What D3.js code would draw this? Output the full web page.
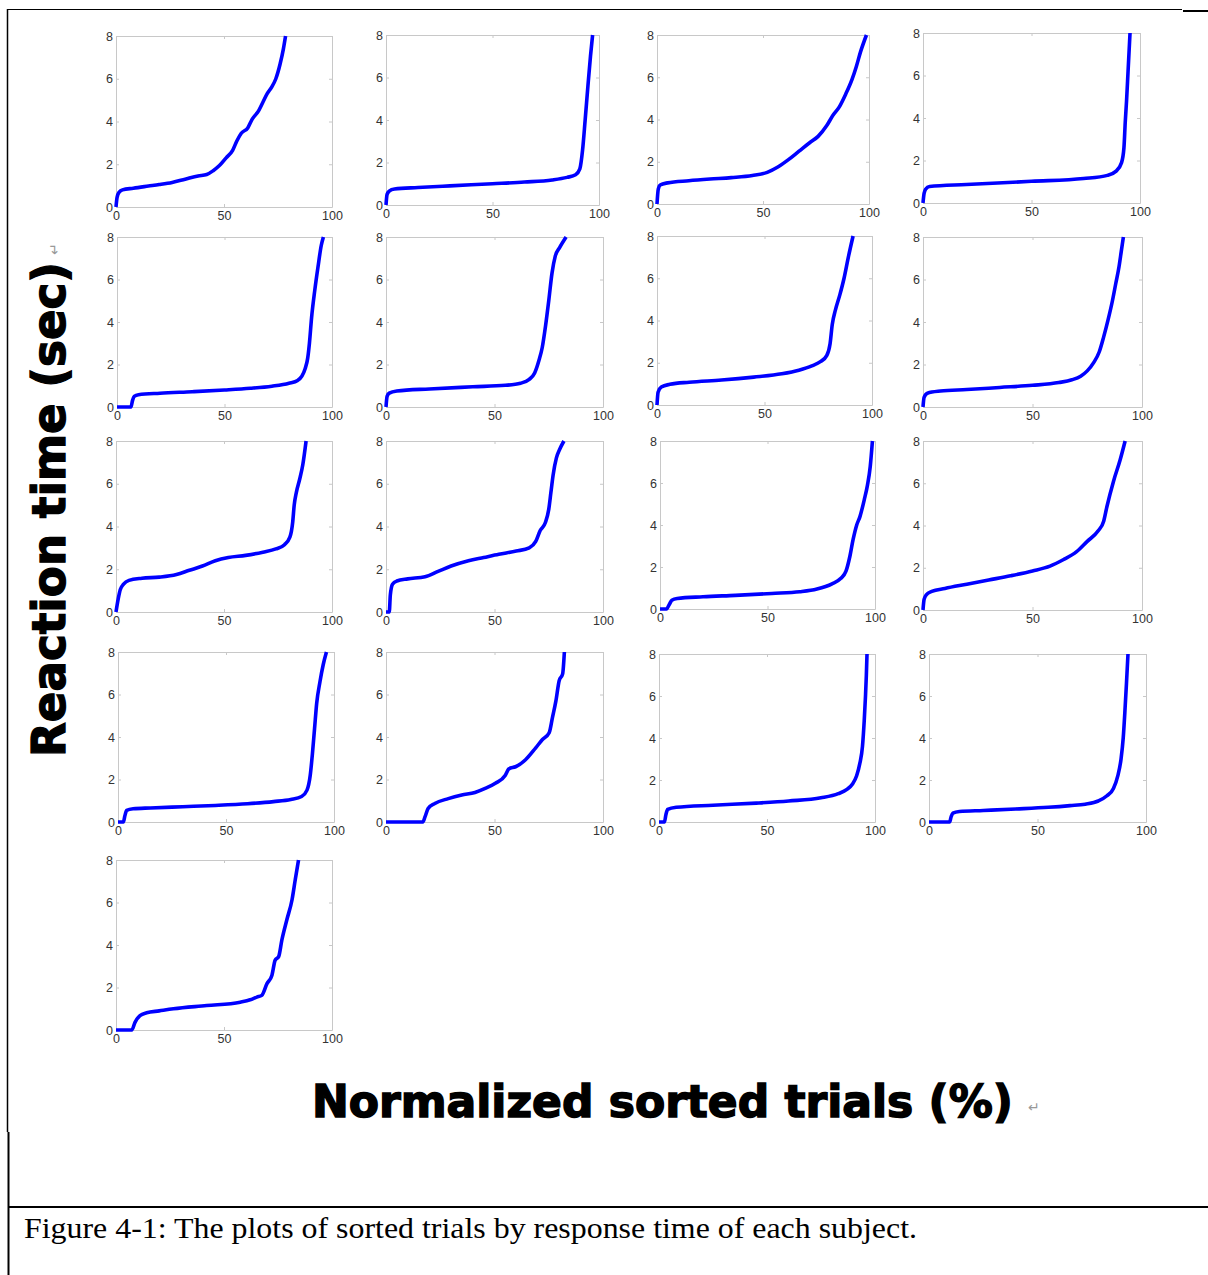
<!DOCTYPE html>
<html lang="en">
<head>
<meta charset="UTF-8">
<title>Figure 4-1: sorted trials by response time</title>
<script src="https://d3js.org/d3.v7.min.js"></script>
<style>
  body { margin: 0; background: #fff; overflow: hidden; }
  svg { display: block; }
  /* tick labels, matlab-ish look */
  .axis .tick text { font-family: "Liberation Sans", Arial, sans-serif; font-size: 12.5px; fill: #333; }
  .axis path, .axis line { stroke: #c8c8c8; stroke-width: 1; }
  .curve { fill: none; stroke: #0000ff; stroke-width: 3.6; stroke-linejoin: round; }
  .big-label { font-family: "DejaVu Sans", sans-serif; font-weight: bold; font-size: 46px; fill: #000; stroke: #000; stroke-width: 1.3; }
  .big-label.x { font-size: 44px; stroke-width: 1.5; }
  .ret { font-family: "DejaVu Sans", sans-serif; font-size: 14px; fill: #999; }
  .caption { font-family: "Liberation Serif", "Times New Roman", serif; font-size: 29px; fill: #000; }
</style>
</head>
<body>
<svg id="fig" width="1208" height="1275"></svg>
<script>
// --- data: [percent of sorted trials, reaction time in sec] per subject ---
const s1  = [[0,0],[0.5,0.45],[1.5,0.7],[3,0.8],[8,0.88],[15,0.98],[20,1.05],[26,1.15],[32,1.3],[38,1.45],[42,1.52],[45,1.7],[48,1.95],[51,2.3],[54,2.65],[56,3.1],[58,3.45],[61,3.7],[63,4.1],[66,4.5],[68,4.9],[70,5.3],[72,5.6],[74,6.0],[76,6.7],[77.5,7.4],[78.5,8]];
const s2  = [[0,0],[0.5,0.5],[1.5,0.65],[4,0.75],[15,0.82],[30,0.9],[50,1.0],[65,1.08],[78,1.18],[85,1.3],[89,1.42],[91,1.7],[92.3,2.6],[93.5,4.0],[94.8,5.6],[96,7.0],[97,8]];
const s3  = [[0,0],[0.6,0.7],[1.5,0.9],[5,1.0],[15,1.1],[25,1.18],[35,1.25],[45,1.35],[52,1.5],[57,1.75],[62,2.1],[67,2.5],[72,2.9],[76,3.2],[80,3.7],[83,4.2],[86,4.6],[89,5.2],[92,5.9],[94,6.5],[96,7.2],[98.8,8]];
const s4  = [[0,0],[0.5,0.45],[1.2,0.65],[3,0.78],[20,0.87],[50,1.02],[74,1.15],[85,1.3],[89,1.5],[91.5,1.9],[92.6,2.6],[93.2,3.8],[93.8,4.8],[94.5,6.2],[95,7.2],[95.4,8]];
const s5  = [[0,0],[6.5,0],[7.2,0.3],[8,0.5],[10,0.58],[20,0.65],[35,0.72],[50,0.8],[62,0.88],[72,0.98],[80,1.12],[84,1.25],[86,1.45],[87.5,1.8],[88.7,2.3],[89.5,3.0],[90.5,4.2],[92,5.5],[93.5,6.6],[95,7.6],[96,8]];
const s6  = [[0,0],[0.5,0.5],[1.5,0.65],[5,0.75],[20,0.85],[40,0.95],[55,1.02],[62,1.12],[66,1.3],[68.5,1.6],[70.5,2.2],[72,2.8],[73.5,3.8],[75,5.0],[76.5,6.3],[78,7.1],[80,7.5],[83,8]];
const s7  = [[0,0],[0.5,0.6],[2,0.85],[6,0.98],[15,1.08],[30,1.18],[45,1.32],[58,1.48],[66,1.65],[72,1.85],[76,2.05],[79,2.35],[80.5,2.9],[81.5,3.8],[83,4.5],[85,5.2],[87,6.0],[89,7.0],[91.2,8]];
const s8  = [[0,0],[0.5,0.45],[2,0.65],[8,0.75],[20,0.82],[35,0.92],[50,1.02],[62,1.15],[68,1.28],[72,1.45],[75,1.7],[78,2.1],[80.5,2.6],[82.5,3.3],[84.5,4.1],[86.5,5.0],[88,5.8],[89.5,6.6],[90.5,7.3],[91.5,8]];
const s9  = [[0,0],[1,0.6],[2,1.05],[3.5,1.3],[6,1.48],[12,1.58],[20,1.63],[28,1.75],[34,1.95],[40,2.15],[46,2.4],[52,2.55],[60,2.65],[68,2.8],[74,2.95],[78,3.15],[80.5,3.5],[81.8,4.2],[82.5,5.0],[83.5,5.6],[85,6.2],[86.5,6.9],[88,8]];
const s10 = [[0,0],[1.5,0],[2,0.8],[3,1.3],[5,1.45],[10,1.55],[18,1.65],[24,1.9],[30,2.15],[38,2.4],[45,2.55],[52,2.7],[60,2.85],[66,3.0],[69,3.3],[71,3.8],[73.5,4.2],[75,4.8],[76,5.6],[77,6.4],[78.5,7.2],[80,7.6],[82,8]];
const s11 = [[0,0],[3,0],[4.5,0.25],[5.5,0.42],[8,0.5],[20,0.58],[35,0.65],[52,0.74],[65,0.82],[73,0.95],[80,1.2],[84,1.45],[86.5,1.8],[88.3,2.5],[89.8,3.3],[91.5,4.0],[93,4.4],[95,5.2],[96.5,5.9],[97.8,6.8],[98.8,8]];
const s12 = [[0,0],[0.5,0.5],[1.5,0.72],[4,0.88],[10,1.02],[20,1.22],[30,1.42],[40,1.62],[50,1.85],[58,2.08],[64,2.38],[70,2.75],[75,3.25],[80,3.75],[82.5,4.2],[84,4.9],[87,6.1],[90,7.1],[92.3,8]];
const s13 = [[0,0],[2.5,0],[3.2,0.3],[4,0.55],[7,0.62],[15,0.66],[30,0.72],[45,0.78],[60,0.86],[72,0.96],[80,1.06],[85,1.2],[87.5,1.5],[89,2.2],[90,3.2],[91,4.4],[92,5.6],[93.5,6.6],[95,7.4],[96.5,8]];
const s14 = [[0,0],[17,0],[18,0.25],[19.4,0.63],[22.5,0.87],[28.7,1.1],[34.9,1.27],[41,1.39],[45.7,1.58],[50.4,1.82],[55,2.2],[56.6,2.5],[59.7,2.6],[64.3,2.93],[69,3.49],[72.1,3.88],[75.2,4.2],[76.7,4.91],[78.3,5.7],[79.8,6.65],[81.4,6.97],[82.2,8]];
const s15 = [[0,0],[2.5,0],[3.2,0.35],[4,0.6],[8,0.7],[25,0.8],[45,0.9],[60,1.0],[75,1.15],[83,1.35],[87,1.55],[89.5,1.8],[91.5,2.2],[93,2.8],[94.2,3.6],[95,4.8],[95.6,6.0],[96,7.0],[96.3,8]];
const s16 = [[0,0],[9.5,0],[10.2,0.25],[11,0.42],[14,0.5],[25,0.55],[40,0.62],[55,0.7],[65,0.78],[72,0.85],[78,1.0],[82,1.25],[85,1.6],[87,2.2],[88.5,3.0],[89.5,4.0],[90.3,5.3],[91,6.6],[91.7,8]];
const s17 = [[0,0],[7.3,0],[8.8,0.36],[11.1,0.68],[14.2,0.81],[20,0.9],[26.6,1.0],[42,1.15],[57.5,1.31],[62.1,1.42],[65.2,1.55],[67.5,1.63],[69.9,2.18],[72.2,2.58],[73.7,3.29],[75.3,3.45],[76.8,4.24],[79.1,5.19],[81.5,6.13],[83,7.08],[84.5,8]];

const subjects = [s1,s2,s3,s4,s5,s6,s7,s8,s9,s10,s11,s12,s13,s14,s15,s16,s17];
const xTicks = [0, 50, 100];
const yTicks = [0, 2, 4, 6, 8];

const yTitle = "Reaction time (sec)";
const xTitle = "Normalized sorted trials (%)";
const caption = "Figure 4-1: The plots of sorted trials by response time of each subject.";

// plot area of each small panel: [left, top, right, bottom] in px
const panelBoxes = [
  [116,36,332,207],[386,35,599,205],[657,35,869,204],[923,33,1140,203],
  [117,237,332,407],[386,237,603,407],[657,236,872,405],[923,237,1142,407],
  [116,441,332,612],[386,441,603,612],[660,441,875,609],[923,441,1142,610],
  [118,652,334,822],[386,652,603,822],[659,654,875,822],[929,654,1146,822],
  [116,860,332,1030]
];

const svg = d3.select("#fig");

// --- frame lines of the word table ---
const frame = svg.append("g").attr("stroke", "#000");
frame.append("line").attr("x1", 7).attr("y1", 9.5).attr("x2", 1182).attr("y2", 9.5).attr("stroke-width", 1);
frame.append("line").attr("x1", 1183).attr("y1", 11).attr("x2", 1208).attr("y2", 11).attr("stroke-width", 2);
frame.append("line").attr("x1", 7.5).attr("y1", 9).attr("x2", 7.5).attr("y2", 1132).attr("stroke-width", 1.5);
frame.append("line").attr("x1", 8.5).attr("y1", 1132).attr("x2", 8.5).attr("y2", 1275).attr("stroke-width", 2);
frame.append("line").attr("x1", 8).attr("y1", 1207).attr("x2", 1208).attr("y2", 1207).attr("stroke-width", 2);

// --- panels ---
subjects.forEach((pts, i) => {
  const [l, t, r, b] = panelBoxes[i];
  const x = d3.scaleLinear().domain([0, 100]).range([l, r]);
  const y = d3.scaleLinear().domain([0, 8]).range([b, t]);
  const g = svg.append("g").attr("class", "panel");

  g.append("g").attr("class", "axis").attr("transform", `translate(0,${b})`)
    .call(d3.axisBottom(x).tickValues(xTicks).tickSizeInner(-3).tickSizeOuter(0).tickPadding(4));
  g.append("g").attr("class", "axis").attr("transform", `translate(0,${t})`)
    .call(d3.axisTop(x).tickValues(xTicks).tickSizeInner(-3).tickSizeOuter(0).tickFormat(""));
  g.append("g").attr("class", "axis").attr("transform", `translate(${l},0)`)
    .call(d3.axisLeft(y).tickValues(yTicks).tickSizeInner(-3).tickSizeOuter(0).tickPadding(3));
  g.append("g").attr("class", "axis").attr("transform", `translate(${r},0)`)
    .call(d3.axisRight(y).tickValues(yTicks).tickSizeInner(-3).tickSizeOuter(0).tickFormat(""));

  const line = d3.line()
    .x(d => x(d[0]))
    .y(d => y(d[1]))
    .curve(d3.curveMonotoneX);

  g.append("path").datum(pts).attr("class", "curve").attr("d", line);
});

// --- big axis titles ---
const yt = svg.append("g").attr("transform", "translate(65,757) rotate(-90)");
yt.append("text").attr("class", "big-label")
  .attr("textLength", 495).attr("lengthAdjust", "spacingAndGlyphs")
  .text(yTitle);
yt.append("text").attr("class", "ret").attr("x", 502).attr("y", -6).text("\u21B5");

// font size picked so the natural width is about 705px
svg.append("text").attr("class", "big-label x")
  .attr("x", 312).attr("y", 1117)
  .text(xTitle);
svg.append("text").attr("class", "ret").attr("x", 1028).attr("y", 1112).text("\u21B5");

// --- caption ---
svg.append("text").attr("class", "caption")
  .attr("x", 24).attr("y", 1238)
  .attr("textLength", 893).attr("lengthAdjust", "spacingAndGlyphs")
  .text(caption);
</script>
</body>
</html>
